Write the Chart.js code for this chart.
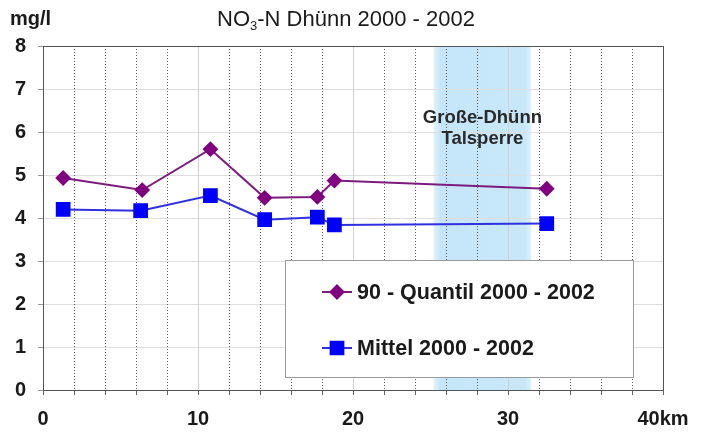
<!DOCTYPE html>
<html>
<head>
<meta charset="utf-8">
<script src="https://cdn.jsdelivr.net/npm/chart.js@4/dist/chart.umd.min.js"></script>
<style>
  html, body { margin: 0; padding: 0; background: #ffffff; overflow: hidden; }
  #wrap { width: 720px; height: 434px; }
  #c { display: block; }
</style>
</head>
<body>
<div id="wrap"><canvas id="c" width="720" height="434"></canvas></div>
<script>
// River kilometre of each sampling station and the nitrate values (mg/l)
const kmQuantil = [1.3, 6.4, 10.8, 14.3, 17.7, 18.8, 32.5];
const quantil90 = [4.93, 4.65, 5.6, 4.47, 4.49, 4.87, 4.68];
const kmMittel  = [1.3, 6.3, 10.8, 14.3, 17.7, 18.8, 32.5];
const mittel    = [4.2, 4.17, 4.52, 3.96, 4.02, 3.84, 3.87];

const seriesNames = ['90 - Quantil 2000 - 2002', 'Mittel 2000 - 2002'];
const xLabelled = [0, 10, 20, 30, 40];
const xGridKm = [2, 4, 6, 8, 10, 12, 14, 16, 18, 20, 22, 24, 26, 28, 30, 32, 34, 36, 38];
const yTicks = [0, 1, 2, 3, 4, 5, 6, 7, 8];
const reservoirKm = [25.2, 31.5];
const reservoirName = ['Große-Dhünn', 'Talsperre'];
const unitY = 'mg/l';
const unitX = 'km';

const FONT = "'Liberation Sans', Arial, sans-serif";

function pts(xs, ys) { return xs.map((x, i) => ({ x: x, y: ys[i] })); }

// Shaded reservoir band, drawn beneath everything else
const bandPlugin = {
  id: 'band',
  beforeDraw(chart) {
    const { ctx, chartArea: a, scales: { x } } = chart;
    const x0 = x.getPixelForValue(reservoirKm[0]);
    const x1 = x.getPixelForValue(reservoirKm[1]);
    const g = ctx.createLinearGradient(x0, 0, x1, 0);
    g.addColorStop(0, 'rgba(197,230,249,0.5)');
    g.addColorStop(0.07, 'rgb(197,230,249)');
    g.addColorStop(0.94, 'rgb(200,232,250)');
    g.addColorStop(1, 'rgba(200,232,250,0.6)');
    ctx.save();
    ctx.beginPath();
    ctx.rect(a.left, a.top, a.right - a.left, a.bottom - a.top);
    ctx.clip();
    ctx.fillStyle = g;
    ctx.fillRect(x0, a.top, x1 - x0, a.bottom - a.top);
    ctx.restore();
  },
  // vertical 2-km grid: dotted, with light solid lines at every 10 km
  beforeDatasetsDraw(chart) {
    const { ctx, chartArea: a, scales: { x } } = chart;
    ctx.save();
    ctx.lineWidth = 1;
    xGridKm.forEach(km => {
      const px = Math.round(x.getPixelForValue(km)) + 0.5;
      const major = km % 10 === 0;
      ctx.strokeStyle = major ? '#d0d0d0' : '#5a5a5a';
      ctx.setLineDash(major ? [] : [1, 2]);
      ctx.beginPath();
      ctx.moveTo(px, a.top);
      ctx.lineTo(px, a.bottom);
      ctx.stroke();
    });
    ctx.restore();
  }
};

// Title, unit, frame, reservoir name and the boxed legend
const decorPlugin = {
  id: 'decor',
  afterDatasetsDraw(chart) {
    const { ctx, chartArea: a, scales: { x, y } } = chart;
    ctx.save();
    // reservoir name
    ctx.fillStyle = '#2a2a2a';
    ctx.font = 'bold 18.5px ' + FONT;
    ctx.textAlign = 'center';
    ctx.textBaseline = 'middle';
    const cx = x.getPixelForValue((reservoirKm[0] + reservoirKm[1]) / 2);
    ctx.fillText(reservoirName[0], cx, y.getPixelForValue(6.32));
    ctx.fillText(reservoirName[1], cx, y.getPixelForValue(5.85));

    // legend box
    const lx = 285, ly = 260, lw = 348, lh = 117;
    ctx.fillStyle = '#ffffff';
    ctx.fillRect(lx, ly, lw, lh);
    ctx.strokeStyle = '#9a9a9a';
    ctx.lineWidth = 1;
    ctx.strokeRect(lx + 0.5, ly + 0.5, lw, lh);
    const rows = [ly + 32, ly + 88];
    chart.data.datasets.forEach((ds, i) => {
      const ry = rows[i];
      ctx.strokeStyle = ds.borderColor;
      ctx.lineWidth = 2;
      ctx.beginPath();
      ctx.moveTo(lx + 37, ry);
      ctx.lineTo(lx + 67, ry);
      ctx.stroke();
      ctx.fillStyle = ds.pointBackgroundColor;
      ctx.strokeStyle = ds.pointBackgroundColor;
      Chart.helpers.drawPoint(ctx, {
        pointStyle: ds.pointStyle, radius: ds.pointRadius, rotation: 0, borderWidth: 1
      }, lx + 52, ry);
      ctx.fillStyle = '#1a1a1a';
      ctx.font = 'bold 21.5px ' + FONT;
      ctx.textAlign = 'left';
      ctx.textBaseline = 'middle';
      ctx.fillText(ds.label, lx + 72, ry + 1);
    });

    // frame
    ctx.strokeStyle = '#555555';
    ctx.lineWidth = 1;
    ctx.strokeRect(Math.round(a.left) + 0.5, Math.round(a.top) + 0.5,
                   Math.round(a.right - a.left), Math.round(a.bottom - a.top));

    // unit and title
    ctx.fillStyle = '#1a1a1a';
    ctx.textBaseline = 'alphabetic';
    ctx.textAlign = 'left';
    ctx.font = 'bold 20px ' + FONT;
    ctx.fillText(unitY, 10, 25);
    let tx = 217;
    const parts = [['NO', 0], ['3', 1], ['-N Dhünn 2000 - 2002', 0]];
    parts.forEach(([t, sub]) => {
      ctx.font = (sub ? '13px ' : '22px ') + FONT;
      ctx.fillText(t, tx, sub ? 30 : 26);
      tx += ctx.measureText(t).width;
    });
    ctx.restore();
  },
  // x-axis labels, placed by the x scale
  afterDraw(chart) {
    const { ctx, scales: { x } } = chart;
    ctx.save();
    ctx.fillStyle = '#1a1a1a';
    ctx.font = 'bold 20px ' + FONT;
    ctx.textAlign = 'center';
    ctx.textBaseline = 'alphabetic';
    xLabelled.forEach(v => {
      const t = v === 40 ? v + unitX : String(v);
      ctx.fillText(t, Math.round(x.getPixelForValue(v)), 425);
    });
    ctx.restore();
  }
};

new Chart(document.getElementById('c'), {
  type: 'line',
  data: {
    datasets: [
      {
        label: seriesNames[0],
        data: pts(kmQuantil, quantil90),
        borderColor: '#7d1a7d',
        backgroundColor: '#800080',
        pointBackgroundColor: '#800080',
        pointBorderColor: '#800080',
        pointStyle: 'rectRot',
        pointRadius: 6.5,
        borderWidth: 2,
        tension: 0
      },
      {
        label: seriesNames[1],
        data: pts(kmMittel, mittel),
        borderColor: '#3030e0',
        backgroundColor: '#0000ff',
        pointBackgroundColor: '#0000ff',
        pointBorderColor: '#0000ff',
        pointStyle: 'rect',
        pointRadius: 9,
        borderWidth: 2,
        tension: 0
      }
    ]
  },
  options: {
    responsive: false,
    animation: false,
    devicePixelRatio: 1,
    layout: { padding: { left: 0, right: 57, top: 46, bottom: 0 } },
    plugins: { legend: { display: false }, tooltip: { enabled: false }, title: { display: false } },
    scales: {
      x: {
        type: 'linear',
        min: 0, max: 40,
        afterFit(s) { s.height = 44; },
        afterBuildTicks(s) {
          s.ticks = [0].concat(xGridKm, [40]).map(v => ({ value: v }));
        },
        ticks: { display: false, autoSkip: false, maxRotation: 0 },
        grid: {
          drawOnChartArea: false,
          tickLength: 5,
          tickColor: '#666666'
        },
        border: { display: true, color: '#555555' }
      },
      y: {
        min: 0, max: 8,
        afterFit(s) { s.width = 43; },
        afterBuildTicks(s) { s.ticks = yTicks.map(v => ({ value: v })); },
        ticks: {
          padding: 12,
          color: '#1a1a1a',
          font: { family: FONT, size: 20, weight: 'bold' }
        },
        grid: { color: '#dedede', lineWidth: 1, tickLength: 5, tickColor: '#999999' },
        border: { display: true, color: '#555555' }
      }
    }
  },
  plugins: [bandPlugin, decorPlugin]
});
</script>
</body>
</html>
